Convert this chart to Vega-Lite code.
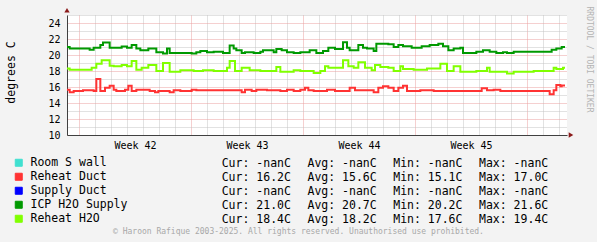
{
  "$schema": "https://vega.github.io/schema/vega-lite/v6.json",
  "width": 500,
  "height": 120,
  "autosize": {"type": "none"},
  "padding": {"left": 67, "top": 15, "right": 30, "bottom": 107},
  "background": "#f3f3f3",
  "config": {
    "view": {"fill": "white", "stroke": null},
    "font": "DejaVu Sans Mono",
    "axis": {"labelFont": "DejaVu Sans Mono", "titleFont": "DejaVu Sans Mono", "labelColor": "black", "titleColor": "black", "titleFontWeight": "normal"},
    "legend": {"labelFont": "DejaVu Sans Mono"}
  },
  "datasets": {
    "temps": [
      {"series": "ICP H2O Supply", "hour": 0, "value": 21.0},
      {"series": "ICP H2O Supply", "hour": 4, "value": 20.8},
      {"series": "ICP H2O Supply", "hour": 34, "value": 20.65},
      {"series": "ICP H2O Supply", "hour": 40, "value": 20.9},
      {"series": "ICP H2O Supply", "hour": 50, "value": 21.25},
      {"series": "ICP H2O Supply", "hour": 54, "value": 21.55},
      {"series": "ICP H2O Supply", "hour": 64, "value": 20.9},
      {"series": "ICP H2O Supply", "hour": 82, "value": 21.05},
      {"series": "ICP H2O Supply", "hour": 90, "value": 20.9},
      {"series": "ICP H2O Supply", "hour": 97, "value": 21.25},
      {"series": "ICP H2O Supply", "hour": 104, "value": 20.8},
      {"series": "ICP H2O Supply", "hour": 110, "value": 20.6},
      {"series": "ICP H2O Supply", "hour": 122, "value": 20.8},
      {"series": "ICP H2O Supply", "hour": 134, "value": 20.35},
      {"series": "ICP H2O Supply", "hour": 144, "value": 20.2},
      {"series": "ICP H2O Supply", "hour": 150, "value": 20.8},
      {"series": "ICP H2O Supply", "hour": 154, "value": 20.25},
      {"series": "ICP H2O Supply", "hour": 187, "value": 20.2},
      {"series": "ICP H2O Supply", "hour": 194, "value": 20.35},
      {"series": "ICP H2O Supply", "hour": 200, "value": 20.5},
      {"series": "ICP H2O Supply", "hour": 210, "value": 20.35},
      {"series": "ICP H2O Supply", "hour": 220, "value": 20.4},
      {"series": "ICP H2O Supply", "hour": 234, "value": 20.25},
      {"series": "ICP H2O Supply", "hour": 244, "value": 21.2},
      {"series": "ICP H2O Supply", "hour": 250, "value": 20.8},
      {"series": "ICP H2O Supply", "hour": 254, "value": 20.6},
      {"series": "ICP H2O Supply", "hour": 262, "value": 20.25},
      {"series": "ICP H2O Supply", "hour": 267, "value": 20.35},
      {"series": "ICP H2O Supply", "hour": 280, "value": 20.25},
      {"series": "ICP H2O Supply", "hour": 290, "value": 20.4},
      {"series": "ICP H2O Supply", "hour": 294, "value": 20.6},
      {"series": "ICP H2O Supply", "hour": 310, "value": 20.35},
      {"series": "ICP H2O Supply", "hour": 314, "value": 20.75},
      {"series": "ICP H2O Supply", "hour": 322, "value": 20.6},
      {"series": "ICP H2O Supply", "hour": 330, "value": 20.35},
      {"series": "ICP H2O Supply", "hour": 340, "value": 20.25},
      {"series": "ICP H2O Supply", "hour": 350, "value": 20.35},
      {"series": "ICP H2O Supply", "hour": 364, "value": 20.6},
      {"series": "ICP H2O Supply", "hour": 374, "value": 20.25},
      {"series": "ICP H2O Supply", "hour": 384, "value": 20.5},
      {"series": "ICP H2O Supply", "hour": 392, "value": 20.9},
      {"series": "ICP H2O Supply", "hour": 402, "value": 20.75},
      {"series": "ICP H2O Supply", "hour": 414, "value": 21.6},
      {"series": "ICP H2O Supply", "hour": 420, "value": 20.9},
      {"series": "ICP H2O Supply", "hour": 424, "value": 20.6},
      {"series": "ICP H2O Supply", "hour": 437, "value": 21.25},
      {"series": "ICP H2O Supply", "hour": 444, "value": 20.9},
      {"series": "ICP H2O Supply", "hour": 450, "value": 20.8},
      {"series": "ICP H2O Supply", "hour": 460, "value": 20.5},
      {"series": "ICP H2O Supply", "hour": 464, "value": 21.4},
      {"series": "ICP H2O Supply", "hour": 482, "value": 21.35},
      {"series": "ICP H2O Supply", "hour": 490, "value": 21.0},
      {"series": "ICP H2O Supply", "hour": 497, "value": 21.25},
      {"series": "ICP H2O Supply", "hour": 504, "value": 21.1},
      {"series": "ICP H2O Supply", "hour": 517, "value": 20.9},
      {"series": "ICP H2O Supply", "hour": 532, "value": 21.1},
      {"series": "ICP H2O Supply", "hour": 544, "value": 21.25},
      {"series": "ICP H2O Supply", "hour": 557, "value": 21.4},
      {"series": "ICP H2O Supply", "hour": 564, "value": 21.1},
      {"series": "ICP H2O Supply", "hour": 572, "value": 20.6},
      {"series": "ICP H2O Supply", "hour": 580, "value": 20.8},
      {"series": "ICP H2O Supply", "hour": 590, "value": 20.9},
      {"series": "ICP H2O Supply", "hour": 594, "value": 20.25},
      {"series": "ICP H2O Supply", "hour": 614, "value": 20.4},
      {"series": "ICP H2O Supply", "hour": 624, "value": 20.6},
      {"series": "ICP H2O Supply", "hour": 634, "value": 20.4},
      {"series": "ICP H2O Supply", "hour": 644, "value": 20.25},
      {"series": "ICP H2O Supply", "hour": 654, "value": 20.35},
      {"series": "ICP H2O Supply", "hour": 660, "value": 20.25},
      {"series": "ICP H2O Supply", "hour": 670, "value": 20.4},
      {"series": "ICP H2O Supply", "hour": 727, "value": 20.65},
      {"series": "ICP H2O Supply", "hour": 734, "value": 20.8},
      {"series": "ICP H2O Supply", "hour": 742, "value": 21.0},
      {"series": "ICP H2O Supply", "hour": 747, "value": 21.0},
      {"series": "Reheat H2O", "hour": 0, "value": 18.3},
      {"series": "Reheat H2O", "hour": 4, "value": 18.15},
      {"series": "Reheat H2O", "hour": 37, "value": 18.4},
      {"series": "Reheat H2O", "hour": 44, "value": 18.9},
      {"series": "Reheat H2O", "hour": 52, "value": 19.35},
      {"series": "Reheat H2O", "hour": 64, "value": 18.65},
      {"series": "Reheat H2O", "hour": 70, "value": 18.6},
      {"series": "Reheat H2O", "hour": 82, "value": 18.75},
      {"series": "Reheat H2O", "hour": 90, "value": 18.6},
      {"series": "Reheat H2O", "hour": 97, "value": 19.25},
      {"series": "Reheat H2O", "hour": 104, "value": 18.15},
      {"series": "Reheat H2O", "hour": 112, "value": 18.4},
      {"series": "Reheat H2O", "hour": 122, "value": 18.75},
      {"series": "Reheat H2O", "hour": 134, "value": 18.0},
      {"series": "Reheat H2O", "hour": 144, "value": 19.0},
      {"series": "Reheat H2O", "hour": 154, "value": 17.9},
      {"series": "Reheat H2O", "hour": 170, "value": 18.1},
      {"series": "Reheat H2O", "hour": 190, "value": 18.0},
      {"series": "Reheat H2O", "hour": 204, "value": 18.1},
      {"series": "Reheat H2O", "hour": 220, "value": 18.0},
      {"series": "Reheat H2O", "hour": 240, "value": 18.4},
      {"series": "Reheat H2O", "hour": 244, "value": 19.25},
      {"series": "Reheat H2O", "hour": 252, "value": 18.0},
      {"series": "Reheat H2O", "hour": 262, "value": 18.4},
      {"series": "Reheat H2O", "hour": 274, "value": 18.1},
      {"series": "Reheat H2O", "hour": 290, "value": 18.0},
      {"series": "Reheat H2O", "hour": 314, "value": 18.5},
      {"series": "Reheat H2O", "hour": 320, "value": 17.9},
      {"series": "Reheat H2O", "hour": 340, "value": 18.1},
      {"series": "Reheat H2O", "hour": 350, "value": 18.0},
      {"series": "Reheat H2O", "hour": 370, "value": 17.75},
      {"series": "Reheat H2O", "hour": 380, "value": 18.0},
      {"series": "Reheat H2O", "hour": 387, "value": 18.6},
      {"series": "Reheat H2O", "hour": 392, "value": 18.4},
      {"series": "Reheat H2O", "hour": 414, "value": 19.35},
      {"series": "Reheat H2O", "hour": 422, "value": 18.6},
      {"series": "Reheat H2O", "hour": 430, "value": 18.4},
      {"series": "Reheat H2O", "hour": 437, "value": 19.1},
      {"series": "Reheat H2O", "hour": 447, "value": 18.4},
      {"series": "Reheat H2O", "hour": 457, "value": 18.1},
      {"series": "Reheat H2O", "hour": 462, "value": 18.75},
      {"series": "Reheat H2O", "hour": 470, "value": 18.5},
      {"series": "Reheat H2O", "hour": 482, "value": 18.4},
      {"series": "Reheat H2O", "hour": 490, "value": 18.0},
      {"series": "Reheat H2O", "hour": 500, "value": 18.6},
      {"series": "Reheat H2O", "hour": 504, "value": 18.25},
      {"series": "Reheat H2O", "hour": 520, "value": 18.15},
      {"series": "Reheat H2O", "hour": 540, "value": 18.3},
      {"series": "Reheat H2O", "hour": 560, "value": 18.9},
      {"series": "Reheat H2O", "hour": 570, "value": 18.0},
      {"series": "Reheat H2O", "hour": 580, "value": 18.6},
      {"series": "Reheat H2O", "hour": 590, "value": 17.9},
      {"series": "Reheat H2O", "hour": 614, "value": 18.0},
      {"series": "Reheat H2O", "hour": 630, "value": 18.4},
      {"series": "Reheat H2O", "hour": 634, "value": 17.9},
      {"series": "Reheat H2O", "hour": 660, "value": 17.7},
      {"series": "Reheat H2O", "hour": 670, "value": 17.9},
      {"series": "Reheat H2O", "hour": 700, "value": 18.0},
      {"series": "Reheat H2O", "hour": 730, "value": 18.4},
      {"series": "Reheat H2O", "hour": 734, "value": 18.25},
      {"series": "Reheat H2O", "hour": 744, "value": 18.4},
      {"series": "Reheat H2O", "hour": 747, "value": 18.4},
      {"series": "Reheat Duct", "hour": 0, "value": 15.65},
      {"series": "Reheat Duct", "hour": 4, "value": 15.35},
      {"series": "Reheat Duct", "hour": 10, "value": 15.5},
      {"series": "Reheat Duct", "hour": 24, "value": 15.6},
      {"series": "Reheat Duct", "hour": 40, "value": 15.5},
      {"series": "Reheat Duct", "hour": 44, "value": 17.0},
      {"series": "Reheat Duct", "hour": 50, "value": 15.5},
      {"series": "Reheat Duct", "hour": 57, "value": 15.9},
      {"series": "Reheat Duct", "hour": 64, "value": 16.15},
      {"series": "Reheat Duct", "hour": 70, "value": 15.65},
      {"series": "Reheat Duct", "hour": 74, "value": 15.5},
      {"series": "Reheat Duct", "hour": 87, "value": 15.65},
      {"series": "Reheat Duct", "hour": 92, "value": 16.15},
      {"series": "Reheat Duct", "hour": 97, "value": 15.5},
      {"series": "Reheat Duct", "hour": 104, "value": 15.65},
      {"series": "Reheat Duct", "hour": 124, "value": 15.5},
      {"series": "Reheat Duct", "hour": 132, "value": 15.35},
      {"series": "Reheat Duct", "hour": 137, "value": 15.5},
      {"series": "Reheat Duct", "hour": 154, "value": 15.35},
      {"series": "Reheat Duct", "hour": 160, "value": 15.6},
      {"series": "Reheat Duct", "hour": 170, "value": 15.5},
      {"series": "Reheat Duct", "hour": 187, "value": 15.65},
      {"series": "Reheat Duct", "hour": 194, "value": 15.6},
      {"series": "Reheat Duct", "hour": 262, "value": 15.35},
      {"series": "Reheat Duct", "hour": 267, "value": 15.65},
      {"series": "Reheat Duct", "hour": 277, "value": 15.5},
      {"series": "Reheat Duct", "hour": 284, "value": 15.65},
      {"series": "Reheat Duct", "hour": 300, "value": 15.6},
      {"series": "Reheat Duct", "hour": 320, "value": 15.5},
      {"series": "Reheat Duct", "hour": 330, "value": 15.65},
      {"series": "Reheat Duct", "hour": 340, "value": 15.5},
      {"series": "Reheat Duct", "hour": 350, "value": 15.65},
      {"series": "Reheat Duct", "hour": 357, "value": 15.9},
      {"series": "Reheat Duct", "hour": 362, "value": 15.6},
      {"series": "Reheat Duct", "hour": 370, "value": 15.5},
      {"series": "Reheat Duct", "hour": 390, "value": 15.65},
      {"series": "Reheat Duct", "hour": 402, "value": 15.5},
      {"series": "Reheat Duct", "hour": 424, "value": 15.9},
      {"series": "Reheat Duct", "hour": 432, "value": 15.6},
      {"series": "Reheat Duct", "hour": 460, "value": 15.35},
      {"series": "Reheat Duct", "hour": 467, "value": 15.9},
      {"series": "Reheat Duct", "hour": 474, "value": 16.1},
      {"series": "Reheat Duct", "hour": 482, "value": 15.9},
      {"series": "Reheat Duct", "hour": 490, "value": 15.5},
      {"series": "Reheat Duct", "hour": 497, "value": 15.9},
      {"series": "Reheat Duct", "hour": 504, "value": 16.15},
      {"series": "Reheat Duct", "hour": 510, "value": 15.5},
      {"series": "Reheat Duct", "hour": 530, "value": 15.6},
      {"series": "Reheat Duct", "hour": 550, "value": 15.5},
      {"series": "Reheat Duct", "hour": 622, "value": 15.85},
      {"series": "Reheat Duct", "hour": 630, "value": 15.6},
      {"series": "Reheat Duct", "hour": 640, "value": 15.65},
      {"series": "Reheat Duct", "hour": 650, "value": 15.5},
      {"series": "Reheat Duct", "hour": 724, "value": 15.1},
      {"series": "Reheat Duct", "hour": 730, "value": 15.6},
      {"series": "Reheat Duct", "hour": 734, "value": 16.25},
      {"series": "Reheat Duct", "hour": 740, "value": 16.1},
      {"series": "Reheat Duct", "hour": 742, "value": 16.2},
      {"series": "Reheat Duct", "hour": 747, "value": 16.2}
    ],
    "stats": [
      {"series": "Room S wall", "stat": "Cur", "label": "Cur: -nanC"},
      {"series": "Room S wall", "stat": "Avg", "label": "Avg: -nanC"},
      {"series": "Room S wall", "stat": "Min", "label": "Min: -nanC"},
      {"series": "Room S wall", "stat": "Max", "label": "Max: -nanC"},
      {"series": "Reheat Duct", "stat": "Cur", "label": "Cur: 16.2C"},
      {"series": "Reheat Duct", "stat": "Avg", "label": "Avg: 15.6C"},
      {"series": "Reheat Duct", "stat": "Min", "label": "Min: 15.1C"},
      {"series": "Reheat Duct", "stat": "Max", "label": "Max: 17.0C"},
      {"series": "Supply Duct", "stat": "Cur", "label": "Cur: -nanC"},
      {"series": "Supply Duct", "stat": "Avg", "label": "Avg: -nanC"},
      {"series": "Supply Duct", "stat": "Min", "label": "Min: -nanC"},
      {"series": "Supply Duct", "stat": "Max", "label": "Max: -nanC"},
      {"series": "ICP H2O Supply", "stat": "Cur", "label": "Cur: 21.0C"},
      {"series": "ICP H2O Supply", "stat": "Avg", "label": "Avg: 20.7C"},
      {"series": "ICP H2O Supply", "stat": "Min", "label": "Min: 20.2C"},
      {"series": "ICP H2O Supply", "stat": "Max", "label": "Max: 21.6C"},
      {"series": "Reheat H2O", "stat": "Cur", "label": "Cur: 18.4C"},
      {"series": "Reheat H2O", "stat": "Avg", "label": "Avg: 18.2C"},
      {"series": "Reheat H2O", "stat": "Min", "label": "Min: 17.6C"},
      {"series": "Reheat H2O", "stat": "Max", "label": "Max: 19.4C"}
    ]
  },
  "resolve": {"scale": {"x": "independent", "y": "independent"}},
  "layer": [
    {
      "data": {"name": "temps"},
      "mark": {"type": "line", "interpolate": "step-after", "strokeWidth": 2},
      "encoding": {
        "x": {"field": "hour", "type": "quantitative",
          "scale": {"domain": [0, 750], "nice": false, "zero": false},
          "axis": {"orient": "bottom", "values": [42, 66, 90, 114, 138, 162, 210, 234, 258, 282, 306, 330, 378, 402, 426, 450, 474, 498, 546, 570, 594, 618, 642, 666, 714, 738],
            "grid": true, "gridColor": "#c4c4c4", "gridDash": [1, 1], "labels": false, "ticks": false, "domain": false, "title": null}},
        "y": {"field": "value", "type": "quantitative",
          "scale": {"domain": [10, 25], "nice": false, "zero": false},
          "axis": {"orient": "left", "values": [11, 13, 15, 17, 19, 21, 23, 25],
            "grid": true, "gridColor": "#c4c4c4", "gridDash": [1, 1], "labels": false, "ticks": false, "domain": false, "title": null}},
        "color": {"field": "series", "type": "nominal",
          "scale": {"domain": ["Room S wall", "Reheat Duct", "Supply Duct", "ICP H2O Supply", "Reheat H2O"],
            "range": ["#40e0d0", "#ff3333", "#0000ff", "#009900", "#80ff00"]},
          "legend": {"orient": "none", "legendX": -54, "legendY": 142, "title": null, "padding": 0,
            "symbolType": "square", "symbolSize": 49, "symbolStrokeWidth": 1, "symbolOffset": 0,
            "labelFontSize": 11.5, "labelColor": "black", "labelOffset": 6, "rowPadding": 1,
            "encode": {"symbols": {"update": {"fill": {"scale": "color", "field": "value"}, "fillOpacity": {"value": 1}, "stroke": {"value": "black"}, "strokeOpacity": {"value": 1}}}}}}
      }
    },
    {
      "data": {"values": [{}]},
      "mark": {"type": "point", "shape": "triangle-right", "filled": true, "color": "#8b1a1a", "size": 28, "opacity": 1},
      "encoding": {
        "x": {"datum": 756, "type": "quantitative",
          "scale": {"domain": [0, 750], "nice": false, "zero": false},
          "axis": {"orient": "bottom", "values": [18, 186, 354, 522, 690],
            "grid": true, "gridColor": "#eba0a0", "gridDash": [1, 1], "labels": false, "ticks": false, "domain": false, "title": null}},
        "y": {"datum": 10, "type": "quantitative",
          "scale": {"domain": [10, 25], "nice": false, "zero": false},
          "axis": {"orient": "left", "values": [10, 12, 14, 16, 18, 20, 22, 24],
            "grid": true, "gridColor": "#eba0a0", "gridDash": [1, 1], "ticks": false,
            "labelFontSize": 10, "labelPadding": 7,
            "domain": true, "domainColor": "#404040",
            "title": "degrees C", "titleFontSize": 11.5, "titleX": -56, "titleY": 57, "titleAngle": -90, "titleBaseline": "middle", "titleAlign": "center"}}
      }
    },
    {
      "data": {"values": [{}]},
      "mark": {"type": "point", "shape": "triangle-up", "filled": true, "color": "#8b1a1a", "size": 28, "opacity": 1},
      "encoding": {
        "x": {"datum": 0, "type": "quantitative",
          "scale": {"domain": [0, 750], "nice": false, "zero": false},
          "axis": {"orient": "bottom", "values": [102, 270, 438, 606],
            "labelExpr": "'Week ' + (42 + (datum.value - 102) / 168)",
            "labelFontSize": 10, "labelPadding": 5, "labelBaseline": "top",
            "grid": false, "ticks": false, "domain": true, "domainColor": "#404040",
            "title": "© Haroon Rafique 2003-2025. All rights reserved. Unauthorised use prohibited.",
            "titleFontSize": 8, "titleColor": "#a8a8a8", "titleX": 231, "titleY": 96, "titleBaseline": "middle", "titleAlign": "center"}},
        "y": {"datum": 25.59, "type": "quantitative",
          "scale": {"domain": [10, 25], "nice": false, "zero": false},
          "axis": {"orient": "right", "grid": false, "labels": false, "ticks": false, "domain": false,
            "title": "RRDTOOL / TOBI OETIKER", "titleFontSize": 8, "titleColor": "#b4b4b4",
            "titleX": 21, "titleY": 44, "titleAngle": 90, "titleBaseline": "middle", "titleAlign": "center"}}
      }
    },
    {
      "data": {"name": "stats"},
      "mark": {"type": "text", "align": "left", "baseline": "middle", "fontSize": 11.5, "font": "DejaVu Sans Mono", "color": "black"},
      "encoding": {
        "x": {"field": "stat", "type": "nominal",
          "scale": {"type": "point", "domain": ["Cur", "Avg", "Min", "Max"], "range": [154.7, 412], "padding": 0}, "axis": null},
        "y": {"field": "series", "type": "nominal",
          "scale": {"type": "point", "domain": ["Room S wall", "Reheat Duct", "Supply Duct", "ICP H2O Supply", "Reheat H2O"], "range": [148.5, 204.5], "padding": 0}, "axis": null},
        "text": {"field": "label"}
      }
    }
  ]
}
